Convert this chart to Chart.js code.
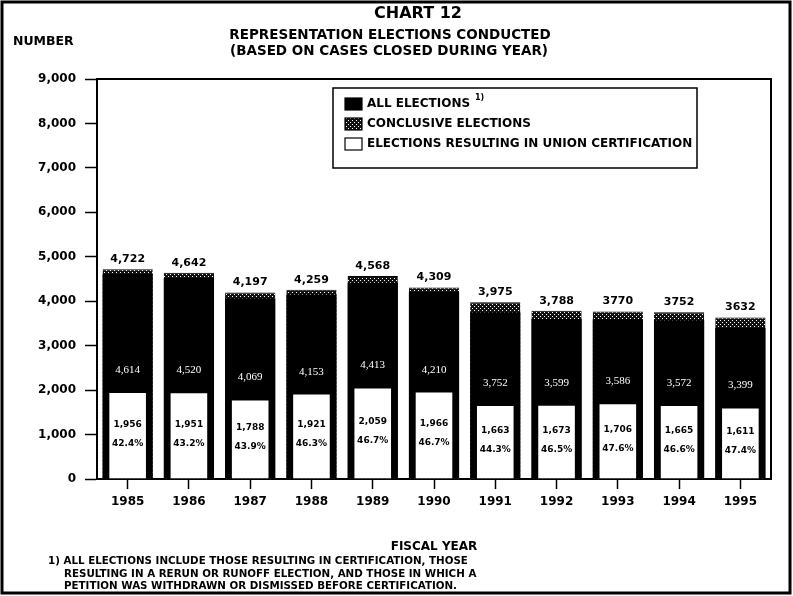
<!DOCTYPE html>
<html>
<head>
<meta charset="utf-8">
<script src="https://cdn.jsdelivr.net/npm/chart.js@4.4.1/dist/chart.umd.min.js"></script>
<style>
    html, body { margin: 0; padding: 0; background: #fff; }
    #wrap { width: 793px; height: 596px; position: relative; }
</style>
</head>
<body>
<div id="wrap"><canvas id="chart12" width="793" height="596"></canvas></div>
<script>
// Data
const years = ['1985', '1986', '1987', '1988', '1989', '1990', '1991', '1992', '1993', '1994', '1995'];
const allElections = [4722, 4642, 4197, 4259, 4568, 4309, 3975, 3788, 3770, 3752, 3632];
const allElectionLabels = ['4,722', '4,642', '4,197', '4,259', '4,568', '4,309', '3,975', '3,788', '3770', '3752', '3632'];
const conclusive = [4614, 4520, 4069, 4153, 4413, 4210, 3752, 3599, 3586, 3572, 3399];
const certified = [1956, 1951, 1788, 1921, 2059, 1966, 1663, 1673, 1706, 1665, 1611];
const certifiedPct = ['42.4%', '43.2%', '43.9%', '46.3%', '46.7%', '46.7%', '44.3%', '46.5%', '47.6%', '46.6%', '47.4%'];
const yTicks = [0, 1000, 2000, 3000, 4000, 5000, 6000, 7000, 8000, 9000];
const footnote = [
    '1) ALL ELECTIONS INCLUDE THOSE RESULTING IN CERTIFICATION, THOSE',
    'RESULTING IN A RERUN OR RUNOFF ELECTION, AND THOSE IN WHICH A',
    'PETITION WAS WITHDRAWN OR DISMISSED BEFORE CERTIFICATION.'
];

const FONT = "'DejaVu Sans', 'Liberation Sans', sans-serif";

// Dotted hatch used for the "all elections" band on top of each bar
function makeHatch() {
    const c = document.createElement('canvas');
    c.width = 4;
    c.height = 4;
    const g = c.getContext('2d');
    g.fillStyle = '#111';
    g.fillRect(0, 0, 4, 4);
    g.fillStyle = '#fff';
    g.fillRect(0, 0, 1, 1);
    g.fillRect(2, 2, 1, 1);
    return g.createPattern(c, 'repeat');
}
const hatch = makeHatch();

// Titles, frame, footnote and the boxed legend
const decorPlugin = {
    id: 'decor',
    afterDraw(chart) {
        const ctx = chart.ctx;
        const area = chart.chartArea;
        ctx.save();

        // outer border
        ctx.strokeStyle = '#000';
        ctx.lineWidth = 3;
        ctx.strokeRect(2, 2, 788, 591);

        // plot frame (top + right)
        ctx.lineWidth = 2;
        ctx.beginPath();
        ctx.moveTo(area.left, area.top);
        ctx.lineTo(area.right, area.top);
        ctx.lineTo(area.right, area.bottom);
        ctx.stroke();

        ctx.fillStyle = '#000';
        ctx.textBaseline = 'middle';
        ctx.textAlign = 'center';
        ctx.font = 'bold 16px ' + FONT;
        ctx.fillText('CHART 12', 418, 14);
        ctx.font = 'bold 13.5px ' + FONT;
        ctx.fillText('REPRESENTATION ELECTIONS CONDUCTED', 390, 35);
        ctx.fillText('(BASED ON CASES CLOSED DURING YEAR)', 389, 51);

        ctx.textAlign = 'left';
        ctx.font = 'bold 12.5px ' + FONT;
        ctx.fillText('NUMBER', 13, 42);

        ctx.font = 'bold 10.3px ' + FONT;
        ctx.fillText(footnote[0], 48, 561);
        ctx.fillText(footnote[1], 64, 574);
        ctx.fillText(footnote[2], 64, 586);

        // legend box
        const lx = 333, ly = 88, lw = 364, lh = 80;
        ctx.fillStyle = '#fff';
        ctx.fillRect(lx, ly, lw, lh);
        ctx.lineWidth = 1.5;
        ctx.strokeRect(lx, ly, lw, lh);

        const items = [
            { text: 'ALL ELECTIONS', fill: '#000' },
            { text: 'CONCLUSIVE ELECTIONS', fill: hatch },
            { text: 'ELECTIONS RESULTING IN UNION CERTIFICATION', fill: '#fff' }
        ];
        ctx.font = 'bold 12px ' + FONT;
        items.forEach((item, i) => {
            const y = 104 + i * 20;
            ctx.fillStyle = item.fill;
            ctx.fillRect(345, y - 6, 17, 12);
            ctx.strokeStyle = '#000';
            ctx.lineWidth = 1.2;
            ctx.strokeRect(345, y - 6, 17, 12);
            ctx.fillStyle = '#000';
            ctx.fillText(item.text, 367, y);
        });
        ctx.font = 'bold 8px ' + FONT;
        ctx.fillText('1)', 475, 98);

        ctx.restore();
    }
};

// Value labels on the bars
const labelPlugin = {
    id: 'barLabels',
    afterDatasetsDraw(chart) {
        const ctx = chart.ctx;
        const allMeta = chart.getDatasetMeta(0);
        const certMeta = chart.getDatasetMeta(2);
        ctx.save();
        ctx.textAlign = 'center';
        ctx.textBaseline = 'middle';
        years.forEach((yr, i) => {
            const top = allMeta.data[i];
            ctx.fillStyle = '#000';
            ctx.font = 'bold 11px ' + FONT;
            ctx.fillText(allElectionLabels[i], top.x, top.y - 10);

            const cert = certMeta.data[i];
            ctx.fillStyle = '#fff';
            ctx.font = "11px 'Liberation Serif', serif";
            ctx.fillText(conclusive[i].toLocaleString('en-US'), top.x, cert.y - 22);

            const mid = (cert.y + cert.base) / 2;
            ctx.fillStyle = '#000';
            ctx.font = 'bold 9px ' + FONT;
            ctx.fillText(certified[i].toLocaleString('en-US'), cert.x, mid - 11);
            ctx.fillText(certifiedPct[i], cert.x, mid + 8);
        });
        ctx.restore();
    }
};

const ctx = document.getElementById('chart12').getContext('2d');
const chart12 = new Chart(ctx, {
    type: 'bar',
    data: {
        labels: years,
        datasets: [
            {
                label: 'ALL ELECTIONS',
                data: allElections,
                backgroundColor: hatch,
                borderColor: '#000',
                borderWidth: { top: 1, left: 0, right: 0, bottom: 0 },
                barPercentage: 0.82,
                categoryPercentage: 1,
                grouped: false,
                order: 3
            },
            {
                label: 'CONCLUSIVE ELECTIONS',
                data: conclusive,
                backgroundColor: '#000',
                borderWidth: 0,
                barPercentage: 0.82,
                categoryPercentage: 1,
                grouped: false,
                order: 2
            },
            {
                label: 'ELECTIONS RESULTING IN UNION CERTIFICATION',
                data: certified,
                backgroundColor: '#fff',
                borderColor: '#000',
                borderWidth: 1,
                barPercentage: 0.63,
                categoryPercentage: 1,
                grouped: false,
                order: 1
            }
        ]
    },
    options: {
        responsive: false,
        animation: false,
        layout: { padding: { top: 79, right: 22, left: 0, bottom: 42 } },
        plugins: {
            legend: { display: false },
            tooltip: { enabled: false }
        },
        scales: {
            x: {
                grid: {
                    display: true,
                    drawOnChartArea: false,
                    offset: false,
                    tickLength: 10,
                    tickWidth: 1.5,
                    color: '#000'
                },
                border: { color: '#000', width: 2 },
                ticks: {
                    color: '#000',
                    padding: 6,
                    font: { family: FONT, weight: 'bold', size: 12 }
                },
                title: {
                    display: true,
                    text: 'FISCAL YEAR',
                    color: '#000',
                    padding: { top: 0, bottom: 0 },
                    font: { family: FONT, weight: 'bold', size: 12 }
                },
                afterFit(scale) { scale.height = 75; }
            },
            y: {
                min: 0,
                max: 9000,
                afterBuildTicks(scale) { scale.ticks = yTicks.map(v => ({ value: v })); },
                grid: {
                    display: true,
                    drawOnChartArea: false,
                    tickLength: 12,
                    tickWidth: 1.5,
                    color: '#000'
                },
                border: { color: '#000', width: 2 },
                ticks: {
                    color: '#000',
                    padding: 9,
                    font: { family: FONT, weight: 'bold', size: 12 },
                    callback: v => v.toLocaleString('en-US')
                },
                afterFit(scale) { scale.width = 97; }
            }
        }
    },
    plugins: [labelPlugin, decorPlugin]
});
</script>
</body>
</html>
